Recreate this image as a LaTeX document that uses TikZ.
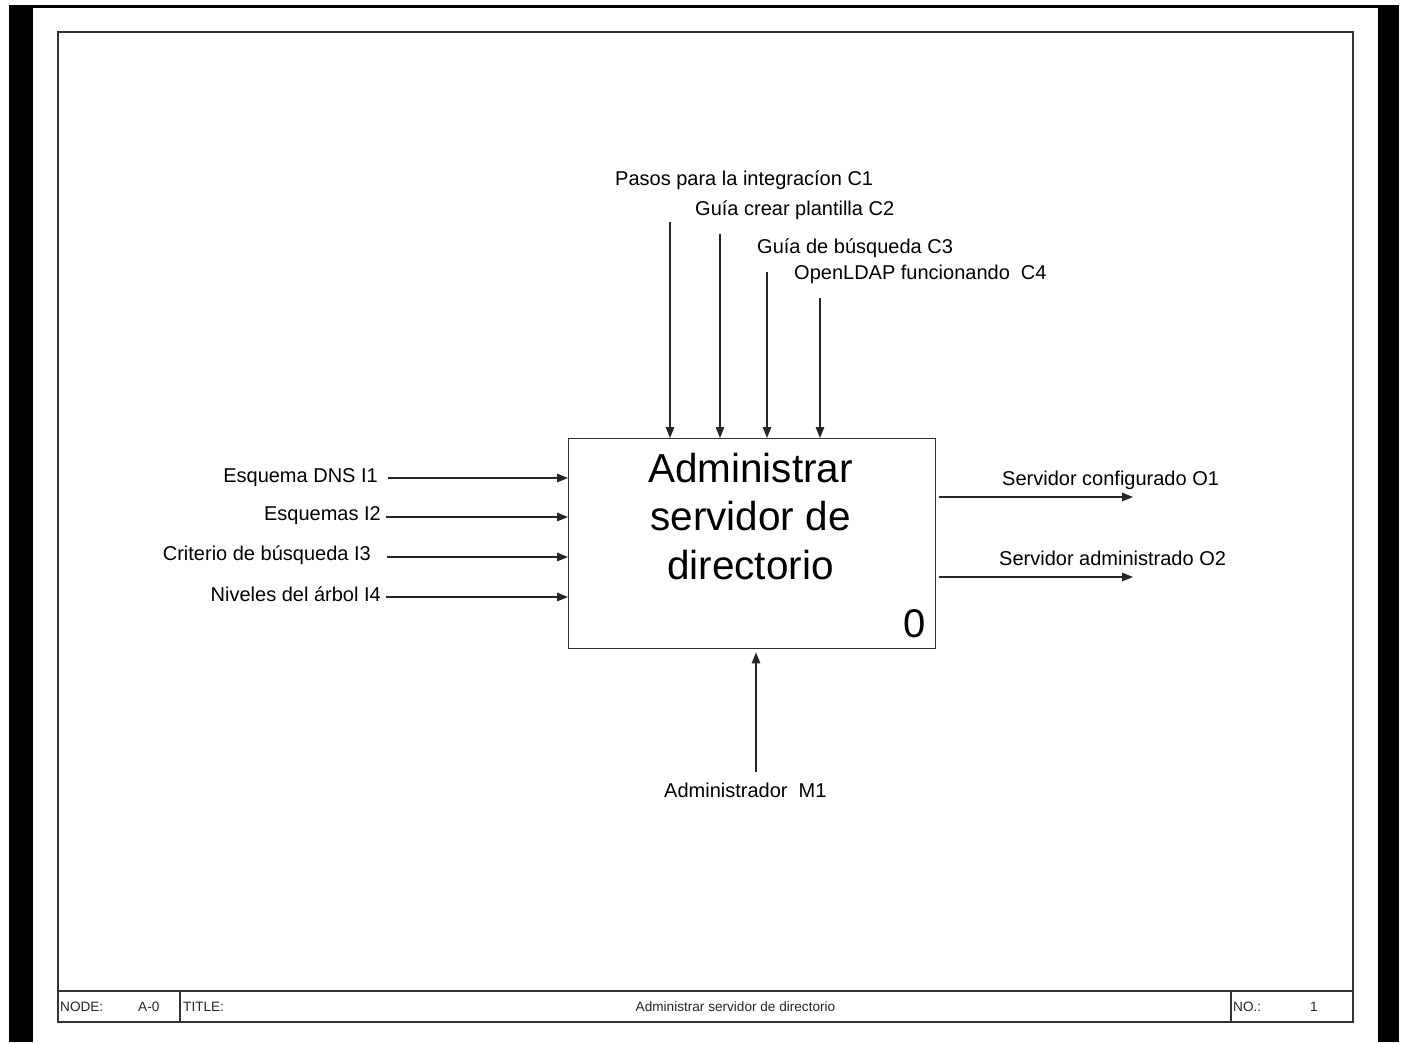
\documentclass[tikz,border=0pt]{standalone}
\usepackage{fontspec}
\setmainfont{Liberation Sans}
\usetikzlibrary{arrows.meta}

\begin{document}
\begin{tikzpicture}[x=1pt,y=-1pt,
  frame/.style={draw=black!80,line width=1.4pt},
  arr/.style={draw=black!85,line width=1.3pt,-{Triangle[length=11pt,width=8.5pt]}},
  lbl/.style={inner sep=0pt,font=\fontsize{20}{24}\selectfont},
  small/.style={inner sep=0pt,font=\fontsize{13.6}{15}\selectfont,text=black!85},
]
\useasboundingbox (0,0) rectangle (1402,1042);
\fill[white] (0,0) rectangle (1402,1042);

% sheet edges
\fill[black] (9,5) rectangle (33,1042);
\fill[black] (9,5) rectangle (1399,7.5);
\fill[black] (1378,5) rectangle (1399,1042);

% drawing frame and title block
\draw[frame] (58,32) rectangle (1353,1022);
\draw[frame] (58,991) -- (1353,991);
\draw[frame] (180,991) -- (180,1022);
\draw[frame] (1231,991) -- (1231,1022);
\node[small,anchor=base west] (tnode) at (60,1011) {NODE:};
\node[small,anchor=base west] (tnodeval) at (138,1011) {A-0};
\node[small,anchor=base west] (ttitle) at (183,1011) {TITLE:};
\node[small,anchor=base] (ttitleval) at (735.5,1011) {Administrar servidor de directorio};
\node[small,anchor=base west] (tno) at (1233,1011) {NO.:};
\node[small,anchor=base] (tnoval) at (1314,1011) {1};

% activity box
\node[draw=black!80,line width=1.4pt,minimum width=367pt,minimum height=210pt,
      inner sep=0pt,anchor=north west] (box) at (568,438) {};
\node[inner sep=0pt,align=center,anchor=base,
      font=\fontsize{40.5}{48.5}\selectfont] (boxtitle) at (750.5,579)
      {Administrar\\servidor de\\directorio};
\node[inner sep=0pt,anchor=base east,font=\fontsize{40}{48}\selectfont]
      (boxnum) at (926,637) {0};

% controls
\coordinate (c1) at (670,222);
\coordinate (c2) at (720,234);
\coordinate (c3) at (767,272);
\coordinate (c4) at (820,298);
\draw[arr] (c1) -- (c1 |- box.north);
\draw[arr] (c2) -- (c2 |- box.north);
\draw[arr] (c3) -- (c3 |- box.north);
\draw[arr] (c4) -- (c4 |- box.north);
\node[lbl,anchor=base west] (lc1) at (615,185) {Pasos para la integracíon C1};
\node[lbl,anchor=base west] (lc2) at (695,215) {Guía crear plantilla C2};
\node[lbl,anchor=base west] (lc3) at (757,253) {Guía de búsqueda C3};
\node[lbl,anchor=base west] (lc4) at (794,279) {OpenLDAP funcionando\ \ C4};

% inputs
\coordinate (i1) at (388,478);
\coordinate (i2) at (386,517);
\coordinate (i3) at (387,557);
\coordinate (i4) at (386,597);
\draw[arr] (i1) -- (i1 -| box.west);
\draw[arr] (i2) -- (i2 -| box.west);
\draw[arr] (i3) -- (i3 -| box.west);
\draw[arr] (i4) -- (i4 -| box.west);
\node[lbl,anchor=base east] (li1) at (378,482) {Esquema DNS I1};
\node[lbl,anchor=base east] (li2) at (381,520) {Esquemas I2};
\node[lbl,anchor=base east] (li3) at (371,560) {Criterio de búsqueda I3};
\node[lbl,anchor=base east] (li4) at (381,601) {Niveles del árbol I4};

% outputs
\coordinate (o1) at (1133,497);
\coordinate (o2) at (1133,577);
\draw[arr,shorten <=3pt] (o1 -| box.east) -- (o1);
\draw[arr,shorten <=3pt] (o2 -| box.east) -- (o2);
\node[lbl,anchor=base west] (lo1) at (1002,485) {Servidor configurado O1};
\node[lbl,anchor=base west] (lo2) at (999,565) {Servidor administrado O2};

% mechanism
\coordinate (m1) at (756,772);
\draw[arr,shorten >=3pt] (m1) -- (m1 |- box.south);
\node[lbl,anchor=base west] (lm1) at (664,797) {Administrador\ \ M1};
\end{tikzpicture}
\end{document}
